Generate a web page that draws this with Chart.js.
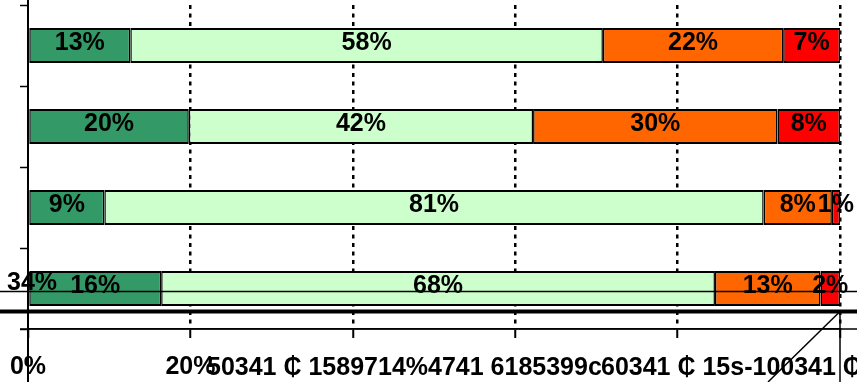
<!DOCTYPE html>
<html><head><meta charset="utf-8">
<script src="https://cdn.jsdelivr.net/npm/chart.js@4"></script>
<style>html,body{margin:0;padding:0;background:#fff}#wrap{width:857px;height:382px}</style>
</head><body><div id="wrap"><canvas id="c" width="857" height="382"></canvas></div>
<script>
const categories = ["1", "2", "3", "4"];
const series1 = [12.6, 19.8, 9.4, 16.4];
const series2 = [58.2, 42.4, 81.2, 68.2];
const series3 = [22.2, 30.1, 8.4, 13.0];
const series4 = [7.0, 7.7, 1.0, 2.4];
const seriesColors = ["#339966", "#CCFFCC", "#FF6600", "#FF0000"];
const xTickValues = [0, 20, 40, 60, 80, 100];
const xTickLabels = ["0%", "20%", "", "", "", ""];
const strayTexts = ["50341 \u20B5 1589714%4741 6185399c", "60341 \u20B5 15s-100341 \u20B5", "34%"];

const FONT = "'Liberation Sans', Arial, sans-serif";

const decor = {
  id: 'decor',
  afterDatasetsDraw(chart) {
    const ctx = chart.ctx;
    ctx.save();
    ctx.font = "bold 25px " + FONT;
    ctx.fillStyle = "#000";
    ctx.textAlign = "center";
    ctx.textBaseline = "middle";
    chart.data.datasets.forEach((ds, di) => {
      const meta = chart.getDatasetMeta(di);
      meta.data.forEach((el, i) => {
        const v = ds.data[i];
        const cx = (el.x + el.base) / 2;
        ctx.fillText(Math.round(v) + "%", cx, el.y - 2);
      });
    });
    ctx.restore();
  },
  afterDraw(chart) {
    const ctx = chart.ctx;
    const xs = chart.scales.x, ys = chart.scales.y;
    const W = chart.width, H = chart.height;
    const x0 = xs.getPixelForValue(0), x100 = xs.getPixelForValue(100);
    const yLast = ys.getPixelForValue(categories.length - 1);
    const thinY = yLast + 3, thickY = yLast + 23;
    const base = chart.chartArea.bottom;
    ctx.save();
    ctx.strokeStyle = "#000";
    ctx.setLineDash([]);
    ctx.lineWidth = 1.5;
    ctx.beginPath(); ctx.moveTo(0, thinY); ctx.lineTo(W, thinY); ctx.stroke();
    ctx.lineWidth = 4;
    ctx.beginPath(); ctx.moveTo(0, thickY); ctx.lineTo(W, thickY); ctx.stroke();
    ctx.lineWidth = 1.5;
    ctx.beginPath(); ctx.moveTo(x0 - 8, base); ctx.lineTo(W, base); ctx.stroke();
    ctx.lineWidth = 2;
    ctx.beginPath(); ctx.moveTo(x0, 0); ctx.lineTo(x0, H); ctx.stroke();
    ctx.lineWidth = 1.5;
    ctx.beginPath(); ctx.moveTo(x100, thickY); ctx.lineTo(x100, H); ctx.stroke();
    ctx.beginPath(); ctx.moveTo(x100, thickY); ctx.lineTo(x100 - 72, H); ctx.stroke();
    ctx.fillStyle = "#000";
    ctx.font = "bold 25px " + FONT;
    ctx.textAlign = "left";
    ctx.textBaseline = "alphabetic";
    ctx.fillText(strayTexts[0], 207, 375);
    ctx.fillText(strayTexts[1], 601, 375);
    ctx.textAlign = "center";
    ctx.fillText(strayTexts[2], x0 + 4, yLast + 1);
    ctx.restore();
  }
};

const dsCommon = {
  borderColor: "#000",
  borderWidth: {top: 2, bottom: 2, left: 1.5, right: 1.5},
  borderSkipped: false,
  inflateAmount: 0,
  barPercentage: 0.43,
  categoryPercentage: 1
};

new Chart(document.getElementById('c'), {
  type: 'bar',
  data: {
    labels: categories,
    datasets: [series1, series2, series3, series4].map((d, i) => Object.assign({
      label: "S" + (i + 1), data: d, backgroundColor: seriesColors[i]
    }, dsCommon))
  },
  options: {
    indexAxis: 'y',
    responsive: false,
    animation: false,
    layout: {padding: {top: 5, right: 17, left: 0, bottom: 0}},
    plugins: {legend: {display: false}, tooltip: {enabled: false}},
    scales: {
      x: {
        type: 'linear', min: 0, max: 100, stacked: true,
        afterBuildTicks: s => { s.ticks = xTickValues.map(v => ({value: v})); },
        afterFit: s => { s.height = 53; s.paddingLeft = 0; s.paddingRight = 0; },
        ticks: {
          callback: v => xTickLabels[xTickValues.indexOf(v)],
          font: {family: FONT, weight: 'bold', size: 25},
          color: '#000', padding: 14, maxRotation: 0, autoSkip: false
        },
        grid: {
          color: c => (c.tick && c.tick.value === 0) ? 'rgba(0,0,0,0)' : '#000',
          lineWidth: 2.5,
          tickLength: 9, tickColor: '#000', tickWidth: 2, tickBorderDash: [1, 0]
        },
        border: {display: true, color: '#000', width: 1.5, dash: [4, 4.5]}
      },
      y: {
        type: 'category', stacked: true,
        afterFit: s => { s.width = 28; },
        ticks: {display: false},
        grid: {offset: true, drawOnChartArea: false, tickLength: 8, tickColor: '#000', tickWidth: 1.5},
        border: {display: true, color: '#000', width: 2}
      }
    }
  },
  plugins: [decor]
});
</script>
</body></html>
